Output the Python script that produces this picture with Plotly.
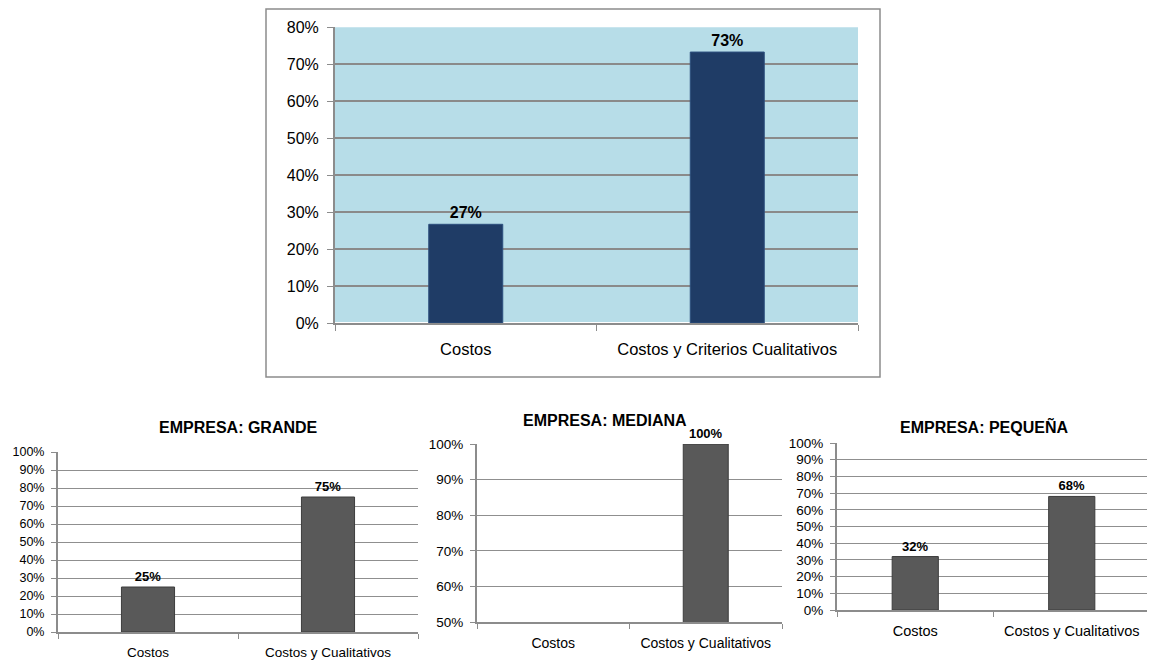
import plotly.graph_objects as go

W, H = 1155, 662
OFF = 8  # page offset of the figure (body margin)

# ---- data ----
top_categories = ["Costos", "Costos y Criterios Cualitativos"]
top_values = [26.7, 73.3]

sub_categories = ["Costos", "Costos y Cualitativos"]
grande_values = [25, 75]
mediana_values = [0, 100]
pequena_values = [32, 68]

titles = ["EMPRESA: GRANDE", "EMPRESA: MEDIANA", "EMPRESA: PEQUEÑA"]

FONT = "Liberation Sans, Arial, sans-serif"


def fx(x):
    return (x - OFF) / W


def fy(y):
    return 1 - (y - OFF) / H


def px_x(x0, x1):
    return [fx(x0), fx(x1)]


def px_y(ytop, ybot):
    return [fy(ybot), fy(ytop)]


def labels(vals, vmin):
    return [f"{round(v)}%" if v > vmin else "" for v in vals]


fig = go.Figure()

# top chart
fig.add_trace(go.Bar(
    x=top_categories, y=top_values, xaxis="x", yaxis="y",
    width=0.283, marker=dict(color="#1f3c66", line=dict(color="#2c4f7e", width=1)),
    text=labels(top_values, 0), textposition="outside", cliponaxis=False,
    textfont=dict(family=FONT, size=16, color="black", weight="bold"),
    showlegend=False, hoverinfo="skip",
))

sub = [(grande_values, 0), (mediana_values, 50), (pequena_values, 0)]
for i, (vals, vmin) in enumerate(sub):
    n = i + 2
    fig.add_trace(go.Bar(
        x=sub_categories, y=vals, xaxis=f"x{n}", yaxis=f"y{n}",
        width=0.295, marker=dict(color="#595959", line=dict(color="#3c3c3c", width=1)),
        text=labels(vals, vmin), textposition="outside", cliponaxis=False,
        textfont=dict(family=FONT, size=13, color="black", weight="bold"),
        showlegend=False, hoverinfo="skip",
    ))

axis_common = dict(showline=True, linecolor="#8c8c8c", ticks="outside",
                   tickcolor="#8c8c8c", fixedrange=True, automargin=False)

layout = dict(
    width=W, height=H, margin=dict(l=0, r=0, t=0, b=0, autoexpand=False),
    paper_bgcolor="white", plot_bgcolor="rgba(0,0,0,0)",
    font=dict(family=FONT, color="black"),
)

# top axes
layout["xaxis"] = dict(domain=px_x(335, 858), anchor="y", type="category",
                       tickson="boundaries", ticklen=6, linewidth=2,
                       tickfont=dict(size=16.5), ticklabelstandoff=10, **axis_common)
layout["yaxis"] = dict(domain=px_y(27.3, 323), anchor="x", range=[0, 80], dtick=10,
                       ticksuffix="%", ticklen=6, linewidth=2,
                       showgrid=True, gridcolor="#8a8a8a", gridwidth=1.5,
                       tickfont=dict(size=16), ticklabelstandoff=5, **axis_common)

sub_geo = [
    dict(x=(58, 418), y=(452, 632), rng=[0, 100], yfs=12.5, xfs=13.5),
    dict(x=(477, 782), y=(444, 622), rng=[50, 100], yfs=13.5, xfs=14),
    dict(x=(837, 1150), y=(443, 610), rng=[0, 100], yfs=13.5, xfs=14.5),
]
for i, g in enumerate(sub_geo):
    n = i + 2
    layout[f"xaxis{n}"] = dict(domain=px_x(*g["x"]), anchor=f"y{n}", type="category",
                               tickson="boundaries", ticklen=5, linewidth=2,
                               tickfont=dict(size=g["xfs"]), ticklabelstandoff=7,
                               **axis_common)
    layout[f"yaxis{n}"] = dict(domain=px_y(*g["y"]), anchor=f"x{n}", range=g["rng"],
                               dtick=10, ticksuffix="%", ticklen=5, linewidth=2,
                               showgrid=True, gridcolor="#8f8f8f", gridwidth=1,
                               tickfont=dict(size=g["yfs"]), ticklabelstandoff=4,
                               **axis_common)

fig.update_layout(**layout)

# top plot background and outer frame
fig.add_shape(type="rect", xref="paper", yref="paper",
              x0=fx(335), x1=fx(858), y0=fy(323), y1=fy(27.3),
              fillcolor="#b7dde8", line=dict(width=0), layer="below")
fig.add_shape(type="rect", xref="paper", yref="paper",
              x0=fx(266), x1=fx(880), y0=fy(377), y1=fy(9),
              fillcolor="rgba(0,0,0,0)", line=dict(color="#8c8c8c", width=1.5))

# subplot titles
title_pos = [(238, 427), (605, 420), (984, 426)]
for t, (cx, cy) in zip(titles, title_pos):
    fig.add_annotation(text=f"<b>{t}</b>", x=fx(cx), y=fy(cy), xref="paper", yref="paper",
                       showarrow=False, xanchor="center", yanchor="middle",
                       font=dict(family=FONT, size=16, color="black"))

fig.write_html("out.html")
